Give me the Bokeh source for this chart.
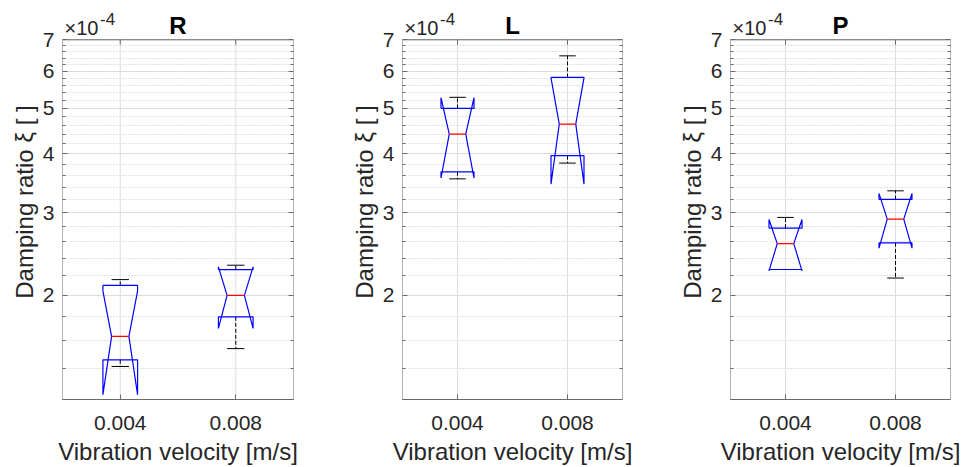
import numpy as np
from bokeh.plotting import figure
from bokeh.layouts import row
from bokeh.models import (Range1d, FixedTicker, PrintfTickFormatter, CustomJSTickFormatter,
                          LogAxis, ColumnDataSource)
from bokeh.core.properties import value
from bokeh.embed import file_html
from bokeh.resources import INLINE

# ---------------- data (damping ratio, in units of 1e-4) ----------------
velocity_labels = ["0.004", "0.008"]          # vibration velocity [m/s]
positions = [1, 2]

R_whisker_lo = [1.411, 1.540]
R_q1 = [1.458, 1.800]
R_notch_lo = [1.229, 1.700]
R_median = [1.635, 2.000]
R_notch_hi = [2.041, 2.300]
R_q3 = [2.100, 2.268]
R_whisker_hi = [2.160, 2.318]

L_whisker_lo = [3.540, 3.825]
L_q1 = [3.665, 3.966]
L_notch_lo = [3.555, 3.450]
L_median = [4.410, 4.630]
L_notch_hi = [5.270, 5.810]
L_q3 = [5.000, 5.820]
L_whisker_hi = [5.280, 6.470]

P_whisker_lo = [2.270, 2.177]
P_q1 = [2.270, 2.586]
P_notch_lo = [2.255, 2.520]
P_median = [2.577, 2.906]
P_notch_hi = [2.900, 3.296]
P_q3 = [2.780, 3.200]
P_whisker_hi = [2.930, 3.338]

y_major_ticks = [2, 3, 4, 5, 6, 7]
y_limits = [1.2, 7.0]
x_limits = [0.5, 2.5]
exponent_base = "×10"
exponent_text = "-4"

FONT = "Liberation Sans"
TXT = "#262626"
FRAME = "#6a6a6a"

# layout: the canvas frame extends a band above the axes box so that the title
# and the exponent can be drawn as text inside it
H = 467
TOP = 4            # canvas frame top
BOTTOM = 68        # bottom border
BAND = 35.3        # px between canvas frame top and the axes box top
FRAME_H = H - TOP - BOTTOM
PX_DEC = (FRAME_H - BAND) / np.log10(y_limits[1] / y_limits[0])
Y_TOP = y_limits[1] * 10 ** (BAND / PX_DEC)
TICK_LEN = 5


def make_panel(name, wlo, q1, nlo, med, nhi, q3, whi, width, bl, br):
    p = figure(width=width, height=H, x_range=Range1d(*x_limits),
               y_range=Range1d(y_limits[0], Y_TOP), y_axis_type="log",
               output_backend="svg", toolbar_location=None,
               min_border_left=bl, min_border_right=br,
               min_border_top=TOP, min_border_bottom=BOTTOM)
    p.background_fill_color = "white"
    p.border_fill_color = "white"
    p.outline_line_color = None

    minor = [round(v, 2) for v in np.arange(1.2, 7.0, 0.2)
             if all(abs(v - m) > 1e-6 for m in y_major_ticks)]
    yt = FixedTicker(ticks=y_major_ticks, minor_ticks=minor)
    xt = FixedTicker(ticks=positions, minor_ticks=[])

    ya = p.yaxis[0]
    ya.ticker = yt
    ya.formatter = PrintfTickFormatter(format="%d")
    ya.axis_label = "Damping ratio ξ [ ]"
    ya.axis_label_text_font = FONT
    ya.axis_label_text_font_size = "24px"
    ya.axis_label_text_font_style = "normal"
    ya.axis_label_text_color = TXT
    ya.axis_label_standoff = 2
    ya.major_label_text_font = FONT
    ya.major_label_text_font_size = "21px"
    ya.major_label_text_color = TXT
    ya.major_label_standoff = 8
    ya.axis_line_color = None
    ya.major_tick_in = 5
    ya.major_tick_out = 0
    ya.minor_tick_in = 3
    ya.minor_tick_out = 0
    ya.major_tick_line_color = FRAME
    ya.minor_tick_line_color = FRAME

    xa = p.xaxis[0]
    xa.ticker = xt
    xa.major_label_overrides = {pos: lab for pos, lab in zip(positions, velocity_labels)}
    xa.axis_label = "Vibration velocity [m/s]"
    xa.axis_label_text_font = FONT
    xa.axis_label_text_font_size = "24px"
    xa.axis_label_text_font_style = "normal"
    xa.axis_label_text_color = TXT
    xa.axis_label_standoff = 5
    xa.major_label_text_font = FONT
    xa.major_label_text_font_size = "21px"
    xa.major_label_text_color = TXT
    xa.major_label_standoff = 16
    xa.axis_line_color = FRAME
    xa.major_tick_in = 5
    xa.major_tick_out = 0
    xa.minor_tick_line_color = None
    xa.major_tick_line_color = FRAME

    blank = CustomJSTickFormatter(code="return ''")
    ra = LogAxis(ticker=yt, formatter=blank, major_label_text_font_size="0px",
                 major_label_standoff=0, axis_line_color=None,
                 major_tick_in=5, major_tick_out=0, minor_tick_in=3, minor_tick_out=0,
                 major_tick_line_color=FRAME, minor_tick_line_color=FRAME)
    p.add_layout(ra, "right")

    # grids (horizontal from the ticker, vertical limited to the axes box)
    p.ygrid.ticker = yt
    p.ygrid.grid_line_color = "#dcdcdc"
    p.ygrid.minor_grid_line_color = "#c4c4c4"
    p.ygrid.minor_grid_line_dash = "1 2"
    p.xgrid.visible = False
    gsrc = ColumnDataSource(dict(x=positions, y0=[y_limits[0]] * len(positions),
                                 y1=[y_limits[1]] * len(positions)))
    p.segment(x0="x", y0="y0", x1="x", y1="y1", source=gsrc,
              line_color="#dcdcdc", line_width=1)

    # axes box and top ticks
    p.quad(left=[x_limits[0]], right=[x_limits[1]], bottom=[y_limits[0]], top=[y_limits[1]],
           fill_color=None, line_color=FRAME, line_width=1)
    tsrc = ColumnDataSource(dict(x=positions, y0=[y_limits[1]] * len(positions),
                                 y1=[y_limits[1] * 10 ** (-TICK_LEN / PX_DEC)] * len(positions)))
    p.segment(x0="x", y0="y0", x1="x", y1="y1", source=tsrc,
              line_color=FRAME, line_width=1)

    w, nw = 0.15, 0.075
    c = np.array(positions, dtype=float)
    wlo, q1, nlo, med, nhi, q3, whi = map(np.array, (wlo, q1, nlo, med, nhi, q3, whi))

    wsrc = ColumnDataSource(dict(x=np.concatenate([c, c]),
                                 y0=np.concatenate([q3, q1]),
                                 y1=np.concatenate([whi, wlo])))
    p.segment(x0="x", y0="y0", x1="x", y1="y1", source=wsrc,
              line_color="black", line_width=1, line_dash="4 2")
    csrc = ColumnDataSource(dict(x0=np.concatenate([c - nw, c - nw]),
                                 x1=np.concatenate([c + nw, c + nw]),
                                 y=np.concatenate([whi, wlo])))
    p.segment(x0="x0", y0="y", x1="x1", y1="y", source=csrc,
              line_color="black", line_width=1)

    xs, ys = [], []
    for i in range(len(c)):
        xs.append([c[i] - w, c[i] - w, c[i] - nw, c[i] - w, c[i] - w,
                   c[i] + w, c[i] + w, c[i] + nw, c[i] + w, c[i] + w, c[i] - w])
        ys.append([q3[i], nhi[i], med[i], nlo[i], q1[i],
                   q1[i], nlo[i], med[i], nhi[i], q3[i], q3[i]])
    p.multi_line(xs=xs, ys=ys, line_color="#0000ff", line_width=1.2)

    msrc = ColumnDataSource(dict(x0=c - nw, x1=c + nw, y=med))
    p.segment(x0="x0", y0="y", x1="x1", y1="y", source=msrc,
              line_color="#ff0000", line_width=1.2)

    # title and exponent, drawn in the band above the axes box
    xmid = (x_limits[0] + x_limits[1]) / 2
    p.text(x=[xmid], y=[y_limits[1]], text=[name], y_offset=-14.5,
           text_font=value(FONT), text_font_size="24px", text_font_style="bold",
           text_color="black", text_align="center", text_baseline="middle")
    p.text(x=[x_limits[0]], y=[y_limits[1]], text=[exponent_base], x_offset=2, y_offset=-11.5,
           text_font=value(FONT), text_font_size="20px", text_color=TXT,
           text_align="left", text_baseline="middle")
    p.text(x=[x_limits[0]], y=[y_limits[1]], text=[exponent_text], x_offset=37.5, y_offset=-20.5,
           text_font=value(FONT), text_font_size="17px", text_color=TXT,
           text_align="left", text_baseline="middle")
    return p


p1 = make_panel("R", R_whisker_lo, R_q1, R_notch_lo, R_median, R_notch_hi, R_q3, R_whisker_hi,
                330, 62, 37)
p2 = make_panel("L", L_whisker_lo, L_q1, L_notch_lo, L_median, L_notch_hi, L_q3, L_whisker_hi,
                320, 72, 28)
p3 = make_panel("P", P_whisker_lo, P_q1, P_notch_lo, P_median, P_notch_hi, P_q3, P_whisker_hi,
                328, 80, 28)

layout = row(p1, p2, p3)
open("out.html", "w").write(file_html(layout, INLINE))
